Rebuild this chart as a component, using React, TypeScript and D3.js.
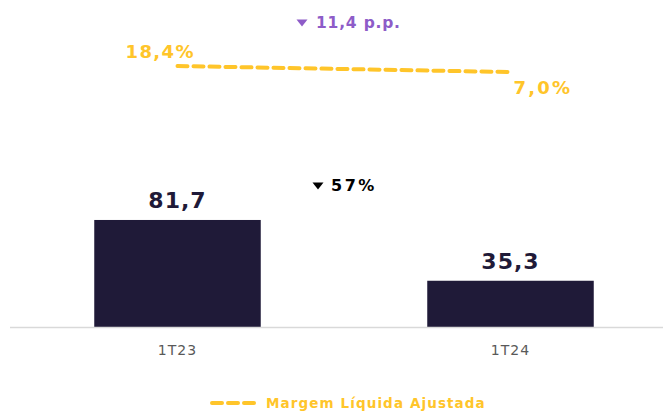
import React, { useEffect } from 'react';
import * as d3 from 'd3';

// periods and values
const periods = ['1T23', '1T24'];
const lucro = [81.7, 35.3];
const lucroLabels = ['81,7', '35,3'];
const margem = [18.4, 7.0];
const margemLabels = ['18,4%', '7,0%'];
const varMargem = '11,4 p.p.';
const varLucro = '57%';
const legendLabel = 'Margem Líquida Ajustada';

const W = 663;
const H = 411;
const NAVY = '#1f1a38';
const GOLD = '#ffc52a';
const PURPLE = '#8e5cc8';
const FONT = '"DejaVu Sans", Verdana, sans-serif';

export default function App() {
    useEffect(() => {
        document.body.style.margin = '0';
    }, []);

    const baseline = 327;

    const x = d3.scaleBand<string>()
        .domain(periods)
        .range([11, 677])
        .paddingInner(0.5)
        .paddingOuter(0.25);

    const y = d3.scaleLinear()
        .domain([0, 90])
        .range([baseline, baseline - 1.31 * 90]);

    // margin line sits on its own small scale at the top
    const yM = d3.scaleLinear()
        .domain([0, 100])
        .range([75.7, 23.1]);

    const cx = (p: string) => (x(p) ?? 0) + x.bandwidth() / 2;

    const line = d3.line<number>()
        .x((_, i) => cx(periods[i]))
        .y(d => yM(d));

    const tri = (tx: number, ty: number, color: string) => (
        <path d={`M${tx - 5.5},${ty - 3.5} L${tx + 5.5},${ty - 3.5} L${tx},${ty + 3.5} Z`} fill={color} />
    );

    return (
        <svg width={W} height={H} style={{ display: 'block', fontFamily: FONT }}>
            <rect width={W} height={H} fill="#fff" />

            {/* bars */}
            {periods.map((p, i) => (
                <g key={p}>
                    <rect
                        x={x(p)}
                        y={y(lucro[i])}
                        width={x.bandwidth()}
                        height={baseline - y(lucro[i])}
                        fill={NAVY}
                    />
                    <text
                        x={cx(p)}
                        y={y(lucro[i]) - 12}
                        textAnchor="middle"
                        fontSize={22}
                        fontWeight="bold"
                        letterSpacing={1}
                        fill={NAVY}
                    >
                        {lucroLabels[i]}
                    </text>
                    <text
                        x={cx(p)}
                        y={baseline + 28}
                        textAnchor="middle"
                        fontSize={14}
                        letterSpacing={1}
                        fill="#595959"
                    >
                        {p}
                    </text>
                </g>
            ))}

            {/* axis line */}
            <line x1={10} x2={W} y1={baseline + 0.5} y2={baseline + 0.5} stroke="#d9d9d9" strokeWidth={1.5} />

            {/* margin line */}
            <path
                d={line(margem) ?? ''}
                fill="none"
                stroke={GOLD}
                strokeWidth={4}
                strokeDasharray="10,6"
                strokeLinecap="round"
            />
            <text x={cx(periods[0]) - 52} y={yM(margem[0]) - 8} fontSize={18} fontWeight="bold" letterSpacing={1.4} fill={GOLD}>
                {margemLabels[0]}
            </text>
            <text x={cx(periods[1]) + 3} y={yM(margem[1]) + 22} fontSize={18} fontWeight="bold" letterSpacing={2.2} fill={GOLD}>
                {margemLabels[1]}
            </text>

            {/* variation callouts */}
            {tri(302, 23, PURPLE)}
            <text x={316} y={28} fontSize={15.5} fontWeight="bold" letterSpacing={0.8} fill={PURPLE}>{varMargem}</text>

            {tri(318, 186, '#000')}
            <text x={331} y={191} fontSize={16} fontWeight="bold" letterSpacing={2.5} fill="#000">{varLucro}</text>

            {/* legend */}
            <line x1={212} x2={258} y1={403} y2={403} stroke={GOLD} strokeWidth={4} strokeDasharray="10,6" strokeLinecap="round" />
            <text x={266} y={408} fontSize={13.5} fontWeight="bold" letterSpacing={1.1} fill={GOLD}>{legendLabel}</text>
        </svg>
    );
}
